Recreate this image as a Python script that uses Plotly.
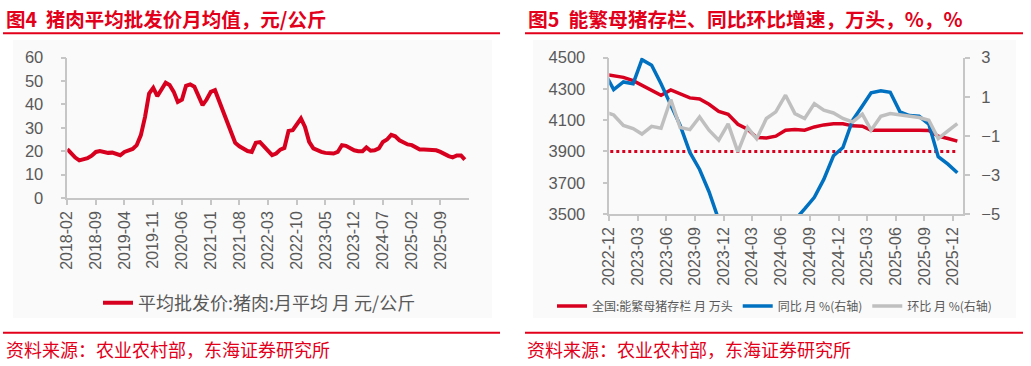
import pandas as pd
import plotly.graph_objects as go

# ---------------- data ----------------
# Fig.4: pork average wholesale price, monthly mean (yuan/kg), from 2018-02
pork_start = "2018-02-01"
pork_price = [20.9, 19.0, 17.3, 16.1, 16.4, 17.0, 18.1, 19.7, 20.1, 19.7,
              19.3, 19.4, 19.0, 18.3, 19.7, 20.4, 21.0, 22.6, 26.9, 34.7,
              44.7, 47.1, 43.6, 46.4, 49.3, 48.3, 45.4, 41.1, 42.1, 48.0,
              48.6, 47.6, 43.3, 39.7, 42.1, 45.4, 46.1, 42.1, 36.9, 32.6,
              28.3, 23.6, 22.1, 21.1, 20.1, 19.7, 23.6, 23.9, 21.9, 19.8,
              18.3, 19.0, 20.7, 21.4, 28.7, 29.0, 31.2, 34.0, 30.4, 24.0,
              21.2, 20.4, 19.7, 19.3, 19.2, 19.0, 19.7, 22.6, 22.3, 21.2,
              20.4, 20.0, 20.0, 21.6, 20.2, 20.4, 21.2, 24.0, 25.0, 27.0,
              26.4, 24.7, 23.6, 22.9, 22.6, 21.6, 20.7, 20.7, 20.7, 20.4,
              20.4, 19.7, 18.7, 17.9, 17.4, 18.2, 18.2, 16.4]
pork_name = "平均批发价:猪肉:月平均 月 元/公斤"

# Fig.5: breeding sow inventory (10k head), YoY %, MoM %, from 2022-11 (mid-month points)
sow_start = "2022-11-01"
sow_stock = [4395, 4387, 4374, 4353, 4323, 4296, 4260, 4294, 4268, 4243,
             4236, 4202, 4157, 4138, 4074, 4042, 3989, 3987, 3998, 4036,
             4040, 4036, 4057, 4070, 4077, 4077, 4064, 4062, 4036, 4036,
             4040, 4040, 4040, 4036, 4034, 3998, 3983, 3966]
sow_yoy = [2.26, 1.37, 1.76, 1.67, 2.9, 2.61, 1.67, 0.62, -0.46, -1.85,
           -2.72, -3.86, -5.3, -5.7, -6.9, -7.1, -7.6, -7.3, -6.2, -6.0,
           -5.3, -4.74, -4.15, -3.23, -2.02, -1.6, -0.2, 0.53, 1.2, 1.31,
           1.23, 0.23, 0.04, 0.0, -0.4, -2.07, -2.45, -2.89]
sow_mom = [0.23, 0.07, -0.47, -0.63, -0.91, -0.51, -0.61, 0.86, -0.57, -0.68,
           -0.03, -0.71, -1.22, -0.39, -1.82, -0.57, -1.15, -0.11, 0.23, 1.08,
           0.14, -0.11, 0.65, 0.31, 0.17, -0.11, -0.29, 0.11, -0.71, 0.0,
           0.14, 0.06, 0.0, -0.06, -0.2, -1.14, -0.74, -0.37]
sow_normal_level = 3900
sow_names = ["全国:能繁母猪存栏 月 万头", "同比 月 %(右轴)", "环比 月 %(右轴)"]

title_left = "图4  猪肉平均批发价月均值，元/公斤"
title_right = "图5  能繁母猪存栏、同比环比增速，万头，%，%"
source_text = "资料来源：农业农村部，东海证券研究所"

pork_dates = pd.date_range(pork_start, periods=len(pork_price), freq="MS")
sow_dates = pd.date_range(sow_start, periods=len(sow_stock), freq="MS") + pd.Timedelta(days=14)

# ---------------- style ----------------
W, H = 1031, 366
RED = "#d7001e"
TITLE_RED = "#e2001a"
BLUE = "#0070c0"
GRAY = "#bfbfbf"
TXT = "#595959"
AX = "#c6c6c6"
FONT = "Liberation Sans, Arial, Noto Sans CJK SC"
CJK = "Noto Sans CJK SC, Liberation Sans"


def px_x(v):
    return v / W


def px_y(v):
    return 1 - v / H


fig = go.Figure()

fig.add_trace(go.Scatter(x=pork_dates, y=pork_price, mode="lines", name=pork_name,
                         line=dict(color=RED, width=4), xaxis="x", yaxis="y",
                         legend="legend"))

fig.add_trace(go.Scatter(x=sow_dates, y=[sow_normal_level] * len(sow_dates), mode="lines",
                         showlegend=False, line=dict(color=RED, width=3, dash="3px,3px"),
                         xaxis="x2", yaxis="y2"))
fig.add_trace(go.Scatter(x=sow_dates, y=sow_stock, mode="lines", name=sow_names[0],
                         line=dict(color=RED, width=3.5), xaxis="x2", yaxis="y2",
                         legend="legend2"))
fig.add_trace(go.Scatter(x=sow_dates, y=sow_yoy, mode="lines", name=sow_names[1],
                         line=dict(color=BLUE, width=3.5), xaxis="x2", yaxis="y3",
                         legend="legend2"))
fig.add_trace(go.Scatter(x=sow_dates, y=sow_mom, mode="lines", name=sow_names[2],
                         line=dict(color=GRAY, width=3.5), xaxis="x2", yaxis="y3",
                         legend="legend2"))

xcommon = dict(type="date", tickformat="%Y-%m", tickangle=-90, showgrid=False,
               showline=True, linecolor=AX, linewidth=1.5, ticks="outside",
               ticklen=5, tickcolor=AX, tickwidth=1.5, automargin=False,
               tickfont=dict(family=FONT, size=16, color=TXT), zeroline=False)
ycommon = dict(showgrid=False, showline=True, linecolor=AX, linewidth=1.5,
               ticks="outside", ticklen=5, tickcolor=AX, tickwidth=1.5,
               automargin=False, tickmode="linear",
               tickfont=dict(family=FONT, size=16.5, color=TXT), zeroline=False)

fig.update_layout(
    width=W, height=H, margin=dict(l=0, r=0, t=0, b=0, autoexpand=False),
    paper_bgcolor="white", plot_bgcolor="rgba(0,0,0,0)",
    xaxis=dict(xcommon, domain=[px_x(67.3), px_x(468.7)], anchor="y",
               range=["2018-02-01", "2026-03-30"], dtick="M7", tick0="2018-02-01"),
    yaxis=dict(ycommon, domain=[px_y(198), px_y(57.7)], anchor="x",
               range=[0, 60], tick0=0, dtick=10, ticklabelstandoff=14),
    xaxis2=dict(xcommon, domain=[px_x(609.3), px_x(963.3)], anchor="y2",
                range=["2022-12-01", "2026-01-03"], dtick="M3", tick0="2022-12-01"),
    yaxis2=dict(ycommon, domain=[px_y(214), px_y(57.7)], anchor="x2",
                range=[3500, 4500], tick0=3500, dtick=200, ticklabelstandoff=14),
    yaxis3=dict(ycommon, domain=[px_y(214), px_y(57.7)], anchor="x2",
                overlaying="y2", side="right", range=[-5, 3], tick0=-5, dtick=2,
                ticklabelstandoff=8),
    legend=dict(orientation="h", x=px_x(98), y=px_y(303), xanchor="left",
                yanchor="middle", bgcolor="rgba(0,0,0,0)",
                font=dict(family=CJK, size=18, color=TXT)),
    legend2=dict(orientation="h", x=px_x(552), y=px_y(306), xanchor="left",
                 yanchor="middle", bgcolor="rgba(0,0,0,0)",
                 font=dict(family=CJK, size=12, color=TXT)),
)

shapes = [
    # faint chart backgrounds
    dict(type="rect", xref="paper", yref="paper", x0=px_x(13), x1=px_x(492),
         y0=px_y(318), y1=px_y(40), fillcolor="#fafafa", line_width=0, layer="below"),
    dict(type="rect", xref="paper", yref="paper", x0=px_x(533), x1=px_x(1016),
         y0=px_y(318), y1=px_y(40), fillcolor="#fafafa", line_width=0, layer="below"),
    # red rules
    dict(type="line", xref="paper", yref="paper", x0=px_x(3), x1=px_x(500),
         y0=px_y(33.3), y1=px_y(33.3), line=dict(color=TITLE_RED, width=2)),
    dict(type="line", xref="paper", yref="paper", x0=px_x(525), x1=px_x(1023),
         y0=px_y(33.3), y1=px_y(33.3), line=dict(color=TITLE_RED, width=2)),
    dict(type="line", xref="paper", yref="paper", x0=px_x(3), x1=px_x(500),
         y0=px_y(332.7), y1=px_y(332.7), line=dict(color=TITLE_RED, width=2)),
    dict(type="line", xref="paper", yref="paper", x0=px_x(525), x1=px_x(1023),
         y0=px_y(332.7), y1=px_y(332.7), line=dict(color=TITLE_RED, width=2)),
]
fig.update_layout(shapes=shapes)

annotations = [
    dict(text="<b>" + title_left + "</b>", xref="paper", yref="paper",
         x=px_x(4), y=px_y(18.5), xanchor="left", yanchor="middle", showarrow=False,
         font=dict(family=CJK, size=19.5, color=TITLE_RED)),
    dict(text="<b>" + title_right + "</b>", xref="paper", yref="paper",
         x=px_x(526), y=px_y(18.5), xanchor="left", yanchor="middle", showarrow=False,
         font=dict(family=CJK, size=19.8, color=TITLE_RED)),
    dict(text=source_text, xref="paper", yref="paper",
         x=px_x(4), y=px_y(348.5), xanchor="left", yanchor="middle", showarrow=False,
         font=dict(family=CJK, size=18, color=TITLE_RED)),
    dict(text=source_text, xref="paper", yref="paper",
         x=px_x(525), y=px_y(348.5), xanchor="left", yanchor="middle", showarrow=False,
         font=dict(family=CJK, size=18, color=TITLE_RED)),
]
fig.update_layout(annotations=annotations)

fig.write_html("out.html",
               config={"displayModeBar": False},
               post_script="document.body.style.margin='0px';"
                           "document.body.style.overflow='hidden';")
